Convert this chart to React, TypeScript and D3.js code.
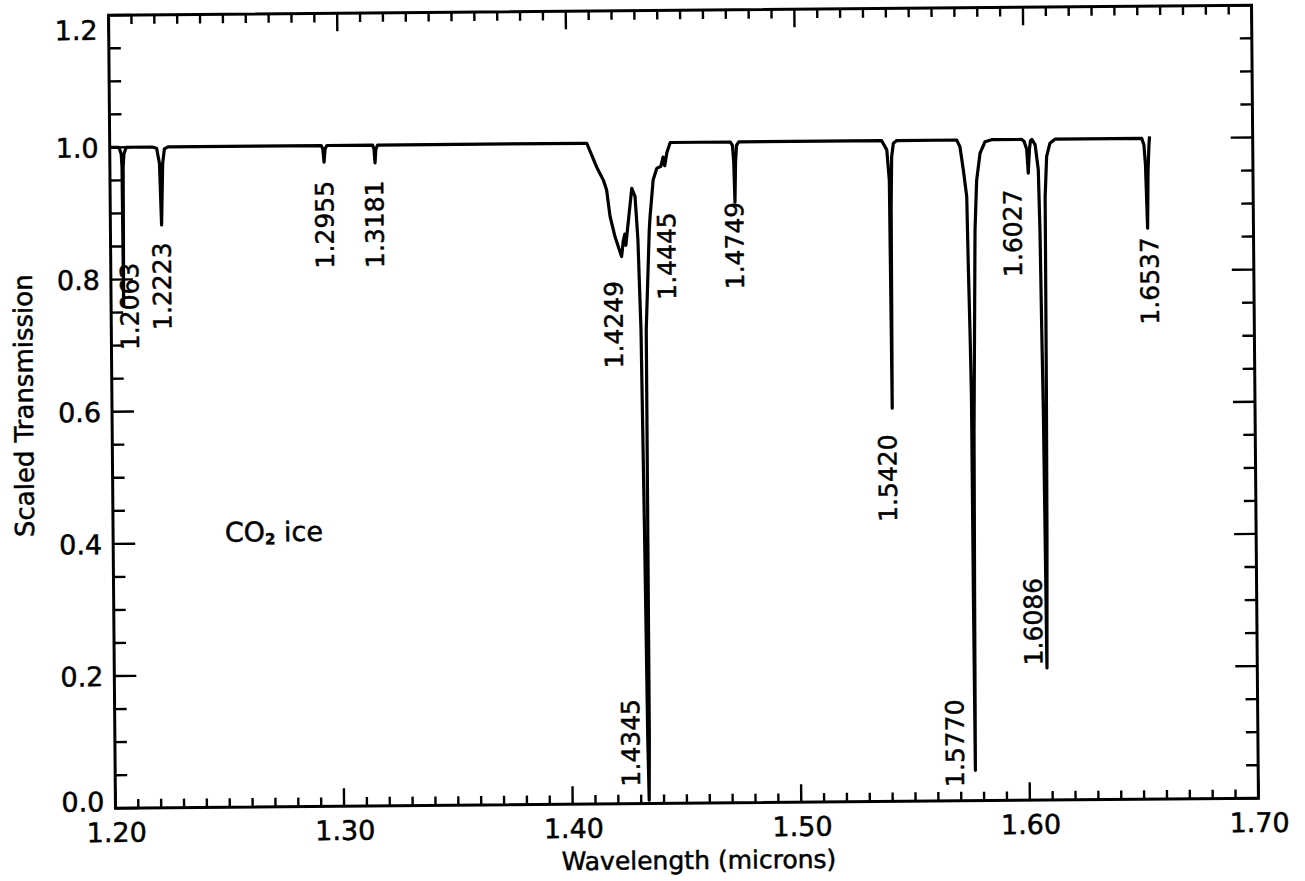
import React from "react";
import * as d3 from "d3";

// ---- data (wavelength in microns, scaled transmission) ----
const wavelength = [
  1.2000, 1.2040, 1.2050, 1.2053, 1.2055, 1.2058, 1.2062, 1.2072,
  1.2185, 1.2205, 1.2217, 1.2224, 1.2231, 1.2239, 1.2255,
  1.2925, 1.2932, 1.2937, 1.2942, 1.2950,
  1.3150, 1.3156, 1.3160, 1.3164, 1.3172,
  1.4070, 1.4087, 1.4108, 1.4129, 1.4158, 1.4172, 1.4186, 1.4207, 1.4235,
  1.4243, 1.4250, 1.4254, 1.4262, 1.4282, 1.4296, 1.4307, 1.4317, 1.4325, 1.4331, 1.4335,
  1.4338, 1.4339, 1.4340, 1.4357, 1.4361, 1.4376, 1.4392, 1.4410, 1.4420, 1.4427, 1.4437, 1.4452,
  1.4715, 1.4724, 1.4729, 1.4733, 1.4737, 1.4742, 1.4752,
  1.5377, 1.5399, 1.5409, 1.5413, 1.5416, 1.5420, 1.5428, 1.5443,
  1.5705, 1.5719, 1.5733, 1.5747, 1.5751, 1.5756, 1.5760, 1.5761, 1.5763,
  1.5766, 1.5770, 1.5782, 1.5791, 1.5807, 1.5829, 1.5858,
  1.5990, 1.6000, 1.6011, 1.6017, 1.6023, 1.6028, 1.6034,
  1.6048, 1.6061, 1.6066, 1.6070, 1.6074, 1.6080, 1.6085, 1.6088, 1.6090, 1.6098, 1.6113, 1.6135,
  1.6515, 1.6524, 1.6530, 1.6537, 1.6541, 1.6546, 1.6549,
];
const transmission = [
  1.000, 1.000, 0.990, 0.970, 0.760, 0.970, 0.990, 1.000,
  1.000, 0.998, 0.975, 0.882, 0.975, 0.997, 1.000,
  1.000, 0.995, 0.975, 0.995, 1.000,
  1.000, 0.994, 0.973, 0.994, 1.000,
  1.000, 1.000, 0.982, 0.964, 0.944, 0.929, 0.889, 0.858, 0.828,
  0.852, 0.862, 0.845, 0.870, 0.931, 0.919, 0.853, 0.717, 0.400, 0.100, 0.005,
  0.100, 0.400, 0.717, 0.868, 0.888, 0.944, 0.961, 0.964, 0.978, 0.965, 0.985, 1.000,
  1.000, 0.995, 0.970, 0.909, 0.970, 0.995, 1.000,
  1.000, 0.986, 0.940, 0.595, 0.900, 0.975, 0.996, 1.000,
  1.000, 0.990, 0.955, 0.914, 0.814, 0.713, 0.611, 0.300, 0.046,
  0.300, 0.560, 0.864, 0.939, 0.980, 0.997, 1.000,
  1.000, 0.997, 0.985, 0.949, 0.985, 0.998, 1.000,
  0.992, 0.954, 0.863, 0.711, 0.586, 0.200, 0.400, 0.620, 0.913, 0.974, 0.994, 1.000,
  1.000, 0.990, 0.960, 0.864, 0.950, 0.990, 1.003,
];

const xTickValues = [1.2, 1.3, 1.4, 1.5, 1.6, 1.7];
const xTickLabels = ["1.20", "1.30", "1.40", "1.50", "1.60", "1.70"];
const yTickValues = [0, 0.2, 0.4, 0.6, 0.8, 1.0, 1.2];
const yTickLabels = ["0.0", "0.2", "0.4", "0.6", "0.8", "1.0", "1.2"];

// band labels and where each label text starts (data coordinates)
const bandLabels = ["1.2063", "1.2223", "1.2955", "1.3181", "1.4249", "1.4345", "1.4445",
  "1.4749", "1.5420", "1.5770", "1.6027", "1.6086", "1.6537"];
const bandLabelX = [1.2120, 1.2263, 1.2976, 1.3195, 1.4237, 1.4295, 1.4471,
  1.4769, 1.5430, 1.5713, 1.5986, 1.6060, 1.6583];
const bandLabelY = [0.693, 0.723, 0.814, 0.814, 0.659, 0.026, 0.762,
  0.777, 0.423, 0.021, 0.792, 0.204, 0.718];

const xTitle = "Wavelength (microns)";
const yTitle = "Scaled Transmission";

export default function App() {
  const W = 1305, H = 881;
  const left = 112, right = 1255, top = 10.25, bottom = 803.25;
  const x = d3.scaleLinear().domain([1.2, 1.7]).range([left, right]);
  const y = d3.scaleLinear().domain([0, 1.2]).range([bottom, top]);
  const pts = wavelength.map((w, i) => [w, transmission[i]] as [number, number]);
  const line = d3.line<[number, number]>().x(d => x(d[0])).y(d => y(d[1]));
  const xMinor = d3.range(120, 171).map(v => v / 100);
  const yMinor = d3.range(0, 25).map(v => v * 0.05);
  const isMajor = (v: number, step: number) => Math.abs(v / step - Math.round(v / step)) < 1e-6;
  const font = "'DejaVu Sans', sans-serif";

  return (
    <svg width={W} height={H} style={{ position: "absolute", left: 0, top: 0, background: "#fff" }}>
      <rect x={0} y={0} width={W} height={H} fill="#fff" />
      <g transform="rotate(-0.5 683.5 406.75)" fontFamily={font} fill="#000">
        {/* ticks */}
        {xMinor.map((v, i) => {
          const len = isMajor(v, 0.1) ? 18 : 9;
          return (
            <g key={"xt" + i} stroke="#000" strokeWidth={2.4}>
              <line x1={x(v)} x2={x(v)} y1={bottom} y2={bottom - len} />
              <line x1={x(v)} x2={x(v)} y1={top} y2={top + len} />
            </g>
          );
        })}
        {yMinor.map((v, i) => {
          const len = isMajor(v, 0.2) ? 22 : 12;
          return (
            <g key={"yt" + i} stroke="#000" strokeWidth={2.4}>
              <line x1={left} x2={left + len} y1={y(v)} y2={y(v)} />
              <line x1={right} x2={right - len} y1={y(v)} y2={y(v)} />
            </g>
          );
        })}
        {/* frame */}
        <rect x={left} y={top} width={right - left} height={bottom - top} fill="none" stroke="#000" strokeWidth={3} />
        {/* spectrum */}
        <path d={line(pts) || ""} fill="none" stroke="#000" strokeWidth={3.2} strokeLinejoin="round" />
        <g stroke="#000" strokeWidth={0.5}>
          {/* tick labels */}
          {xTickValues.map((v, i) => (
            <text key={"xl" + i} x={x(v) + 1} y={837} fontSize={27} textAnchor="middle">{xTickLabels[i]}</text>
          ))}
          {yTickValues.map((v, i) => {
            const base = Math.min(Math.max(y(v) + 10, top + 24.5), bottom + 3);
            return (
              <text key={"yl" + i} x={101} y={base} fontSize={27} textAnchor="end">{yTickLabels[i]}</text>
            );
          })}
          {/* axis titles */}
          <text x={695} y={869} fontSize={25} textAnchor="middle">{xTitle}</text>
          <text transform={`translate(33,400) rotate(-90)`} fontSize={26} textAnchor="middle">{yTitle}</text>
          {/* band labels */}
          {bandLabels.map((t, i) => (
            <text key={"bl" + i} transform={`translate(${x(bandLabelX[i])},${y(bandLabelY[i])}) rotate(-90)`} fontSize={25}>{t}</text>
          ))}
          {/* CO2 ice */}
          <text x={x(1.2489)} y={y(0.4019)} fontSize={27}>
            CO<tspan fontSize={15} fontWeight="bold" dy={3}>2</tspan><tspan dy={-3}> ice</tspan>
          </text>
        </g>
      </g>
    </svg>
  );
}
